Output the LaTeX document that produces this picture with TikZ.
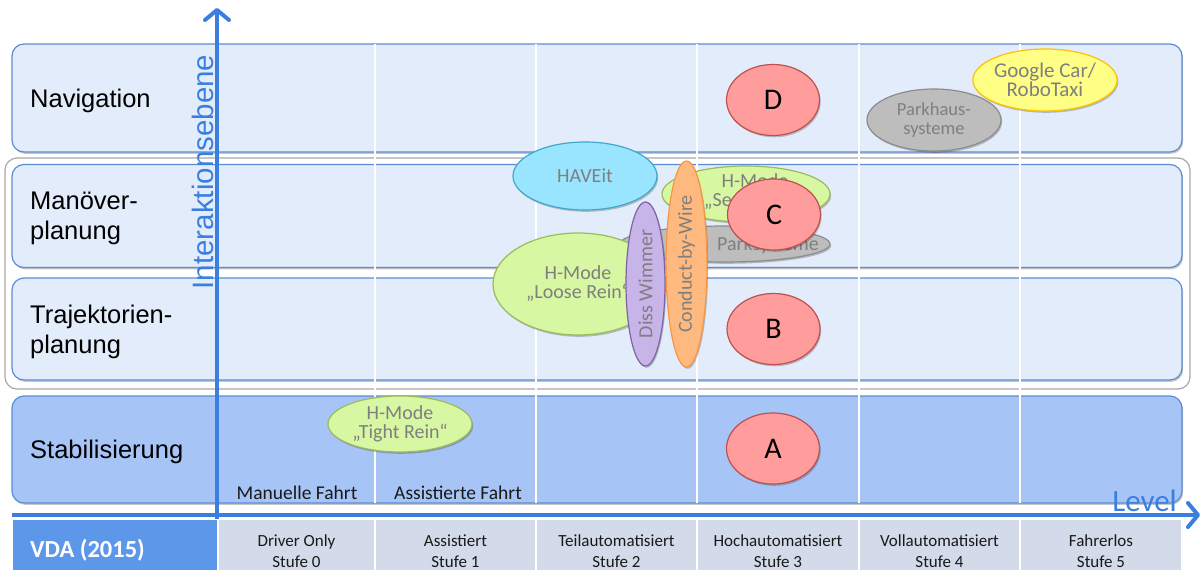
\documentclass[tikz,border=0pt]{standalone}
\usepackage{fontspec}
\setmainfont{Carlito}
\newfontfamily\arialfont{Liberation Sans}
\usetikzlibrary{shapes.geometric,arrows.meta,shadows}

\definecolor{bandfill}{HTML}{E3ECFB}
\definecolor{bandline}{HTML}{5B8CD6}
\definecolor{stabfill}{HTML}{A6C4F6}
\definecolor{framegray}{HTML}{A8A8A8}
\definecolor{axisblue}{HTML}{3A7FE0}
\definecolor{vdafill}{HTML}{5D97E9}
\definecolor{cellfill}{HTML}{D3DBEA}
\definecolor{blobtext}{HTML}{7F7F7F}
\definecolor{redfill}{HTML}{FF9D9D}
\definecolor{redline}{HTML}{C0504D}
\definecolor{greenfill}{HTML}{D7F7A2}
\definecolor{greenline}{HTML}{9BBB59}
\definecolor{cyanfill}{HTML}{99E5FF}
\definecolor{cyanline}{HTML}{3FA9C8}
\definecolor{grayfill}{HTML}{BDBDBD}
\definecolor{grayline}{HTML}{8C8C8C}
\definecolor{yellowfill}{HTML}{FFFF85}
\definecolor{yellowline}{HTML}{FFC000}
\definecolor{purplefill}{HTML}{C7B4E8}
\definecolor{purpleline}{HTML}{8064A2}
\definecolor{orangefill}{HTML}{FFB97E}
\definecolor{orangeline}{HTML}{F79646}

\begin{document}
\begin{tikzpicture}[x=1pt,y=-1pt,
  softshadow/.style={drop shadow={shadow xshift=1.2pt,shadow yshift=-1.8pt,opacity=0.22,fill=black}},
  band/.style={draw=bandline, line width=1.2pt, fill=bandfill, rounded corners=12pt,
    inner sep=0, minimum width=1170pt, softshadow},
  groupframe/.style={draw=framegray, line width=1.2pt, fill=white, rounded corners=12pt, inner sep=0},
  bandlabel/.style={font=\arialfont\fontsize{25.5}{30}\selectfont, align=left, text=black, inner sep=0},
  colline/.style={white, line width=1.5pt},
  cell/.style={fill=cellfill, draw=white, line width=1.5pt, minimum height=52pt, inner sep=0},
  celltext/.style={font=\fontsize{17}{21}\selectfont, text=black!90, align=center, yshift=-6pt},
  drivetext/.style={font=\fontsize{19.5}{19.5}\selectfont, text=black!90, inner sep=0},
  axis/.style={draw=axisblue, line width=4pt, -{Straight Barb[length=10pt,width=24pt,round]}},
  blob/.style={ellipse, inner sep=0, line width=1.2pt, font=\fontsize{20}{19}\selectfont,
    text=blobtext, align=center, softshadow},
  stage/.style={blob, fill=redfill, draw=redline, minimum width=93pt, minimum height=71pt,
    text=black, font=\fontsize{30}{30}\selectfont},
  blobtextnode/.style={font=\fontsize{20}{19}\selectfont, text=blobtext, align=center, inner sep=0}
]
\useasboundingbox (0,0) rectangle (1203,571);

% frame around the two planning layers
\node[groupframe, minimum width=1185pt, minimum height=231pt] (grp) at (597.5,273.5) {};

% interaction layers
\node[band, minimum height=108pt] (nav)  at (597,98)    {};
\node[band, minimum height=103pt] (man)  at (597,216)   {};
\node[band, minimum height=102pt] (traj) at (597,329)   {};
\node[band, fill=stabfill, minimum height=107pt] (stab) at (597,449.5) {};

% column separators
\foreach \cx in {375,536,697,859,1020}
  \draw[colline] (\cx,44) -- (\cx,503);

% layer names
\node[bandlabel, anchor=base west] (lnav) at (30,107) {Navigation};
\node[bandlabel, anchor=west] (lman) at (30,218) {Manöver-\\planung};
\node[bandlabel, anchor=west] (ltraj) at (30,332) {Trajektorien-\\planung};
\node[bandlabel, anchor=base west] (lstab) at (30,458) {Stabilisierung};

% driving modes
\node[drivetext, anchor=base] (manuell) at (297,499) {Manuelle Fahrt};
\node[drivetext, anchor=base] (assist) at (458,499) {Assistierte Fahrt};

% VDA levels
\node[cell, fill=vdafill, minimum width=206pt] (vda) at (115,545) {};
\node[font=\bfseries\fontsize{24.5}{24.5}\selectfont, text=white, anchor=base west, inner sep=0] (vdatext) at (30,557) {VDA (2015)};
\node[cell, minimum width=157pt, label={[celltext]center:Driver Only\\Stufe 0}] (s0) at (296.5,545) {};
\node[cell, minimum width=161pt, label={[celltext]center:Assistiert\\Stufe 1}] (s1) at (455.5,545) {};
\node[cell, minimum width=161pt, label={[celltext]center:Teilautomatisiert\\Stufe 2}] (s2) at (616.5,545) {};
\node[cell, minimum width=162pt, label={[celltext]center:Hochautomatisiert\\Stufe 3}] (s3) at (778,545) {};
\node[cell, minimum width=161pt, label={[celltext]center:Vollautomatisiert\\Stufe 4}] (s4) at (939.5,545) {};
\node[cell, minimum width=162pt, label={[celltext]center:Fahrerlos\\Stufe 5}] (s5) at (1101,545) {};

% research projects and systems
\node[blob, fill=yellowfill, draw=yellowline, minimum width=144pt, minimum height=62pt,
  font=\fontsize{21}{19}\selectfont] (google) at (1045,80) {Google Car/\\RoboTaxi};
\node[blob, fill=grayfill, draw=grayline, minimum width=134pt, minimum height=62pt,
  font=\fontsize{18.5}{19}\selectfont] (parkhaus) at (934,120) {Parkhaus-\\systeme};
\node[stage] (D) at (773,100) {D};

\node[blob, fill=cyanfill, draw=cyanline, minimum width=144pt, minimum height=68pt] (haveit) at (585,176) {HAVEit};
\node[blob, fill=greenfill, draw=greenline, minimum width=168pt, minimum height=56pt] (hmsec) at (746,194) {};
\node[blobtextnode] (hmsectext) at (755,192) {H-Mode\\„Secondary“};
\node[blob, fill=grayfill, draw=grayline, minimum width=210pt, minimum height=36pt] (parksys) at (725,244) {};
\node[blobtextnode] (parksystext) at (768,245) {Parksysteme};
\node[blob, fill=greenfill, draw=greenline, minimum width=170pt, minimum height=102pt] (loose) at (578,284) {H-Mode\\„Loose Rein“};
\node[blob, fill=purplefill, draw=purpleline, minimum width=39pt, minimum height=164pt] (diss) at (645.5,284) {};
\node[blobtextnode, rotate=90] (disstext) at (645.5,284) {Diss Wimmer};
\node[blob, fill=orangefill, draw=orangeline, minimum width=41pt, minimum height=206pt] (cbw) at (686.5,264) {};
\node[blobtextnode, rotate=90] (cbwtext) at (686.5,264) {Conduct-by-Wire};

\node[stage] (C) at (774,214.5) {C};
\node[stage] (B) at (773.5,329) {B};
\node[stage] (A) at (773,448.5) {A};

\node[blob, fill=greenfill, draw=greenline, minimum width=144pt, minimum height=56pt] (tight) at (400,424) {H-Mode\\„Tight Rein“};

% axes
\coordinate (xstart) at (12,515);
\coordinate (xend) at (1200,515);
\coordinate (ystart) at (217,519);
\coordinate (yend) at (217,8);
\draw[axis] (ystart) -- (yend);
\draw[axis] (xstart) -- (xend);
\node[font=\arialfont\fontsize{29.5}{29.5}\selectfont, text=axisblue, rotate=90, anchor=base, inner sep=0] (ylabel) at (213,172) {Interaktionsebene};
\node[font=\fontsize{31}{31}\selectfont, text=axisblue, anchor=base east, inner sep=0] (xlabel) at (1177,511) {Level};
\end{tikzpicture}
\end{document}
